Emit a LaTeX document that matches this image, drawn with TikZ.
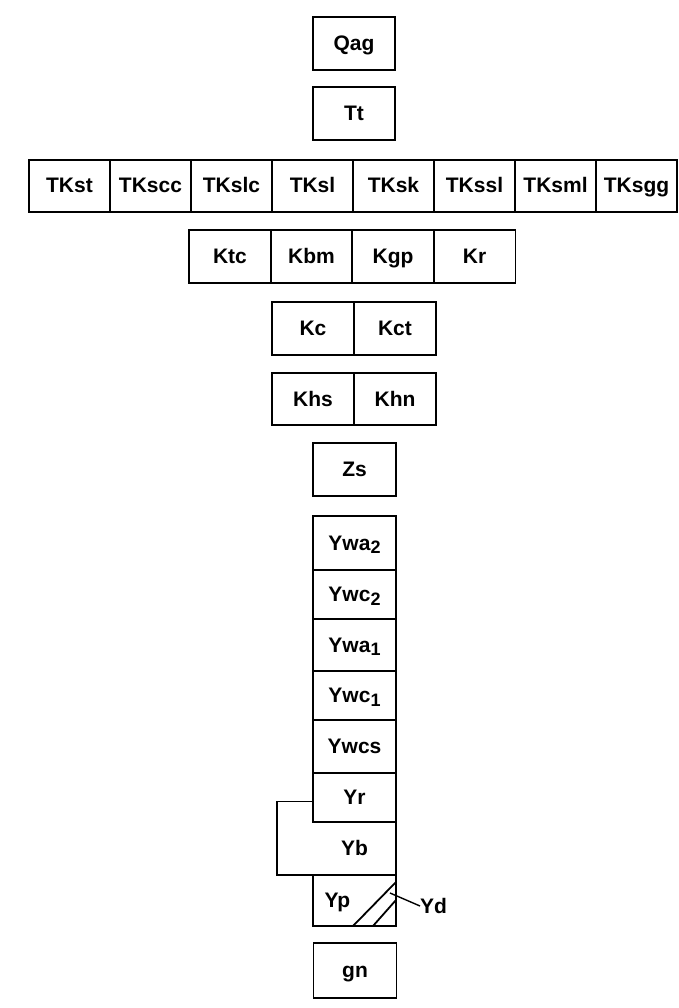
\documentclass[tikz,border=0pt]{standalone}
\usepackage{fontspec}
\setmainfont{Liberation Sans}
\usetikzlibrary{positioning}
\newcommand{\lowidx}[1]{\raisebox{-0.35ex}{\fontsize{18}{18}\selectfont #1}}
\tikzset{
  unitbox/.style={draw, line width=1.8pt, inner sep=0pt, outer sep=0pt, minimum width=82pt,
    minimum height=53pt, text height=15pt, text depth=1pt,
    font=\fontsize{21}{21}\selectfont\bfseries},
  unitlbl/.style={inner sep=0pt, outer sep=0pt, text height=15pt, text depth=1pt,
    font=\fontsize{21}{21}\selectfont\bfseries},
  unitline/.style={line width=1.8pt},
}

\begin{document}
\begin{tikzpicture}[x=1pt,y=-1pt]
  \useasboundingbox (0,0) rectangle (678,1008);
  % single units on top
  \node[unitbox] (qag) at (354,43.5) {Qag};
  \node[unitbox] (tt) at (354,113.5) {Tt};
  % TK row
  \foreach \i/\lbl in {0/TKst,1/TKscc,2/TKslc,3/TKsl,4/TKsk,5/TKssl,6/TKsml,7/TKsgg} {
    \node[unitbox, minimum width=81pt, minimum height=52pt] (tk\i) at ({69.5+81*\i},186) {\lbl};
  }
  % K rows
  \foreach \i/\lbl in {0/Ktc,1/Kbm,2/Kgp,3/Kr} {
    \node[unitbox] (k\i) at ({230+81.5*\i},256.5) {\lbl};
  }
  \node[unitbox] (kc) at (313,328.5) {Kc};
  \node[unitbox] (kct) at (395,328.5) {Kct};
  \node[unitbox, minimum height=52pt] (khs) at (313,399) {Khs};
  \node[unitbox, minimum height=52pt] (khn) at (395,399) {Khn};
  \node[unitbox, minimum width=83pt] (zs) at (354.5,469.5) {Zs};
  % Y column
  \foreach \nm/\lbl/\cy/\h in {ywa2/{Ywa\lowidx{2}}/543/54, ywc2/{Ywc\lowidx{2}}/594.5/49,
      ywa1/{Ywa\lowidx{1}}/645/52, ywc1/{Ywc\lowidx{1}}/695.5/49,
      ywcs/Ywcs/746.5/53, yr/Yr/797.5/49} {
    \node[unitbox, minimum width=83pt, minimum height=\h pt] (\nm) at (354.5,\cy) {\lbl};
  }
  \node[unitbox, minimum width=83pt, minimum height=51pt, text width=60pt, align=left] (yp) at (354.5,900.5) {Yp};
  \node[unitlbl] (yb) at (354.5,848.5) {Yb};
  \draw[unitline] (yr.south east) -- (yp.north east);
  \draw[unitline] ([yshift=-4pt]yr.west) -| ([xshift=-36pt]yp.north west) -- (yp.north east);
  % Yd wedge
  \draw[unitline] ([xshift=-43pt]yp.south east) -- ([yshift=-7pt]yp.north east);
  \draw[unitline] ([xshift=-23pt]yp.south east) -- ([yshift=26pt]yp.south east);
  \coordinate (ydpt) at (390,893);
  \node[unitlbl, anchor=west] (yd) at (420,906) {Yd};
  \draw[line width=1.4pt] (ydpt) -- (yd.west);
  \node[unitbox, minimum width=83pt, minimum height=55pt] (gn) at (355,970.5) {gn};
\end{tikzpicture}
\end{document}
